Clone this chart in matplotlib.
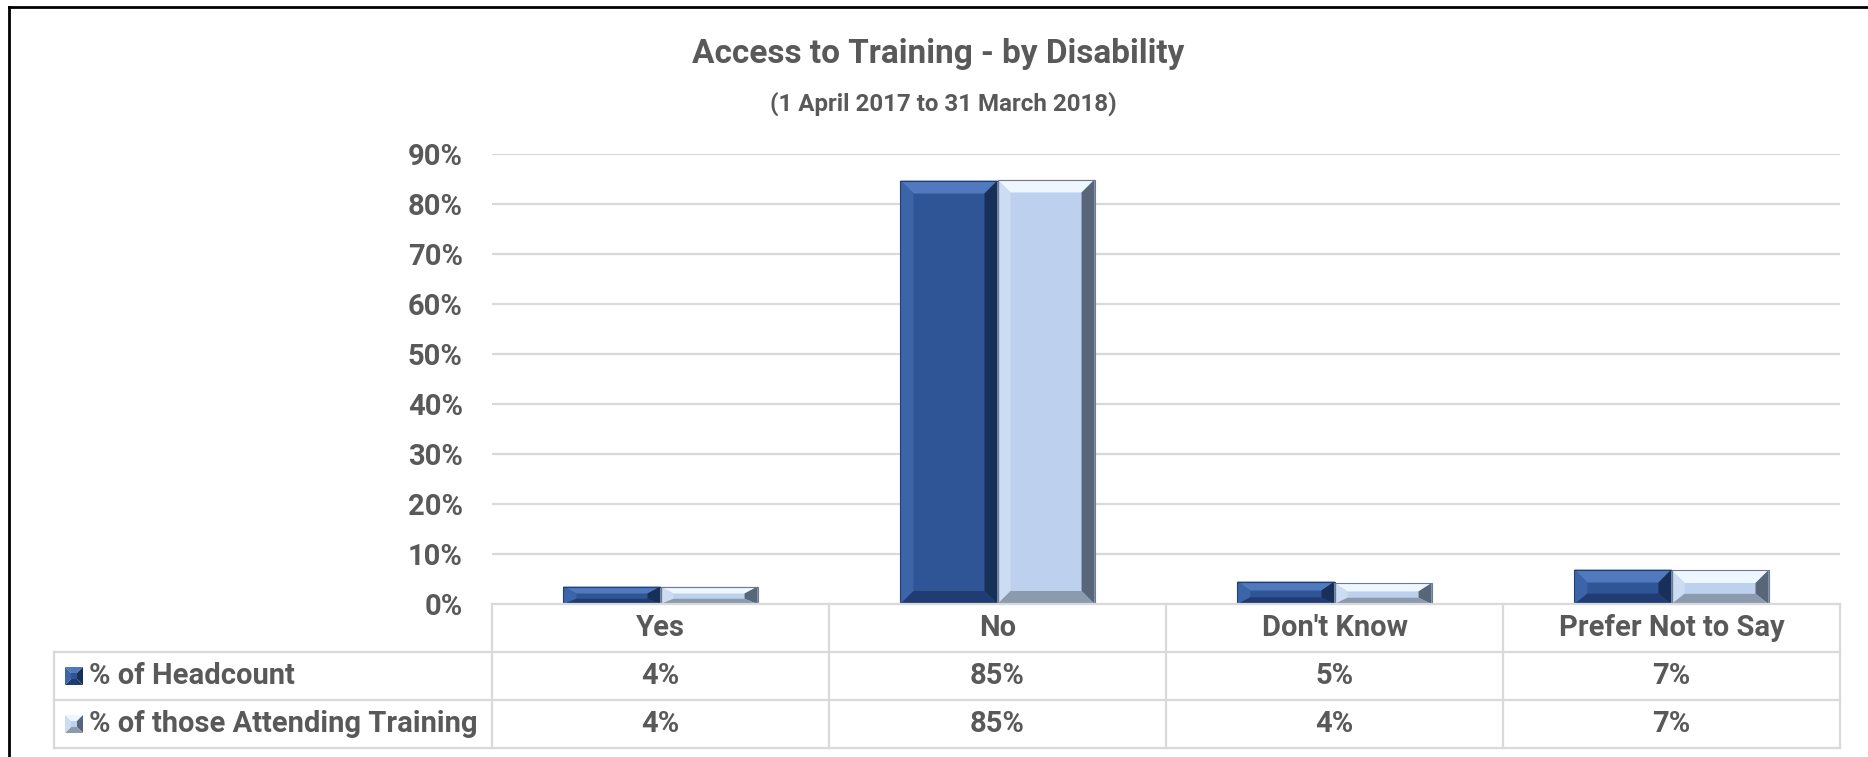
import matplotlib
matplotlib.use("Agg")
import matplotlib.pyplot as plt
from matplotlib.patches import Polygon, Rectangle
from matplotlib.lines import Line2D

categories = ["Yes", "No", "Don't Know", "Prefer Not to Say"]
series_names = ["% of Headcount", "% of those Attending Training"]
headcount = [3.5, 84.7, 4.5, 6.9]
attending = [3.5, 84.9, 4.2, 6.8]
y_ticks = [0, 10, 20, 30, 40, 50, 60, 70, 80, 90]

W, H = 1868, 757
GREY = "#595959"
GRID = "#D9D9D9"
FONT = ["Roboto", "DejaVu Sans"]
TXT_SIZE = 21

# face, top facet, left facet, right facet, bottom facet, outline
DARK = ("#2F5597", "#5079BE", "#3B64A9", "#182F57", "#203C72", "#22406F")
LIGHT = ("#BDD1EF", "#EEF6FF", "#CCDCF2", "#58667A", "#8C9AAE", "#6D7A8C")

plt.rcParams['font.family'] = FONT
plt.rcParams['font.weight'] = 'bold'


def fig_xy(x, y):
  """ pixel position (from top left) -> figure fraction """
  return x / W, 1 - y / H


"""
  Draws one bar as a flat face with four bevelled edges, the
  bevel depth given in pixels and turned into data units.
"""
def bevel_bar(ax, x, h, w, colours, depth=13):
  face, top, left, right, bottom, edge = colours
  x0, x1 = x - w / 2, x + w / 2
  (p0x, p0y), (p1x, p1y) = ax.transData.transform([(x0, 0), (x1, h)])
  ux = (p1x - p0x) / w
  uy = (p1y - p0y) / h
  bx = depth / ux
  top_d = min(depth, 0.4 * (p1y - p0y)) / uy
  bot_d = min(depth, 0.3 * (p1y - p0y)) / uy

  ax.add_patch(Rectangle((x0, 0), w, h, facecolor=face, edgecolor="none", zorder=3))
  facets = [
    ([(x0, h), (x1, h), (x1 - bx, h - top_d), (x0 + bx, h - top_d)], top),
    ([(x0, 0), (x0, h), (x0 + bx, h - top_d), (x0 + bx, bot_d)], left),
    ([(x1, 0), (x1, h), (x1 - bx, h - top_d), (x1 - bx, bot_d)], right),
    ([(x0, 0), (x1, 0), (x1 - bx, bot_d), (x0 + bx, bot_d)], bottom),
  ]
  for pts, c in facets:
    ax.add_patch(Polygon(pts, closed=True, facecolor=c, edgecolor="none", zorder=4))
  ax.add_patch(Rectangle((x0, 0), w, h, facecolor="none", edgecolor=edge,
                         linewidth=0.8, zorder=5))


"""
  Small pyramid-shaped legend key drawn in figure pixels.
"""
def legend_key(fig, cx, cy, colours, size=18):
  face, top, left, right, bottom, edge = colours
  s = size / 2
  c = 3
  corners = [(cx - s, cy - s), (cx + s, cy - s), (cx + s, cy + s), (cx - s, cy + s)]
  inner = [(cx - c, cy - c), (cx + c, cy - c), (cx + c, cy + c), (cx - c, cy + c)]
  faces = [
    ([corners[0], corners[1], inner[1], inner[0]], top),
    ([corners[1], corners[2], inner[2], inner[1]], right),
    ([corners[2], corners[3], inner[3], inner[2]], bottom),
    ([corners[3], corners[0], inner[0], inner[3]], left),
    (inner, face),
  ]
  for pts, col in faces:
    fig.patches.append(Polygon([fig_xy(*p) for p in pts], closed=True,
                               facecolor=col, edgecolor="none",
                               transform=fig.transFigure, figure=fig))


fig = plt.figure(figsize=(W / 100, H / 100), dpi=100)

# chart area
plot_l, plot_r, plot_t, plot_b = 492, 1840, 154, 604
ax = fig.add_axes([plot_l / W, 1 - plot_b / H, (plot_r - plot_l) / W, (plot_b - plot_t) / H])
ax.set_xlim(-0.5, len(categories) - 0.5)
ax.set_ylim(0, 90)
ax.set_yticks(y_ticks)
ax.set_yticklabels(["%d%%" % t for t in y_ticks])
ax.set_xticks([])
ax.tick_params(axis="y", length=0, pad=21, labelsize=TXT_SIZE, labelcolor=GREY)
for s in ax.spines.values():
  s.set_visible(False)
for t in y_ticks[1:]:
  ax.axhline(t, color=GRID, linewidth=1.6, zorder=1)

bar_w = 0.288
for i in range(len(categories)):
  bevel_bar(ax, i - bar_w / 2, headcount[i], bar_w, DARK)
  bevel_bar(ax, i + bar_w / 2, attending[i], bar_w, LIGHT)

# data table underneath
tab_l, tab_b = 54, 748
unit = (plot_r - plot_l) / len(categories)
left_edge = -0.5 - (plot_l - tab_l) / unit
tab = fig.add_axes([tab_l / W, 1 - tab_b / H, (plot_r - tab_l) / W, (tab_b - plot_b) / H])
tab.set_xlim(left_edge, len(categories) - 0.5)
tab.set_ylim(0, 3)
tab.axis("off")

right_edge = len(categories) - 0.5
lk = dict(color=GRID, linewidth=1.6, clip_on=False)
tab.add_line(Line2D([-0.5, right_edge], [3, 3], **lk))
for yy in [2, 1, 0]:
  tab.add_line(Line2D([left_edge, right_edge], [yy, yy], **lk))
tab.add_line(Line2D([left_edge, left_edge], [0, 2], **lk))
for i in range(len(categories) + 1):
  tab.add_line(Line2D([i - 0.5, i - 0.5], [0, 3], **lk))

txt = dict(ha="center", va="center", fontsize=TXT_SIZE, color=GREY, fontweight="bold")
for i, cat in enumerate(categories):
  tab.text(i, 2.5, cat, **txt)
  tab.text(i, 1.5, "%d%%" % int(headcount[i] + 0.5), **txt)
  tab.text(i, 0.5, "%d%%" % int(attending[i] + 0.5), **txt)

row_y = [676, 724]
for name, yy, cols in zip(series_names, row_y, [DARK, LIGHT]):
  legend_key(fig, 74, yy, cols)
  fig.text(*fig_xy(89, yy), name, ha="left", va="center", fontsize=TXT_SIZE,
           color=GREY, fontweight="bold")

# titles
fig.text(*fig_xy(938, 54), "Access to Training - by Disability", ha="center",
         va="center", fontsize=24, color=GREY, fontweight="bold")
fig.text(*fig_xy(943, 104), "(1 April 2017 to 31 March 2018)", ha="center",
         va="center", fontsize=17.4, color=GREY, fontweight="bold")

# outer frame
fig.lines.append(Line2D([8.5 / W, 8.5 / W], [0, 1 - 7 / H], color="black",
                        linewidth=2, transform=fig.transFigure, figure=fig))
fig.lines.append(Line2D([8.5 / W, 1], [1 - 7 / H, 1 - 7 / H], color="black",
                        linewidth=2, transform=fig.transFigure, figure=fig))

fig.savefig("out.png", dpi=100, facecolor="white")
